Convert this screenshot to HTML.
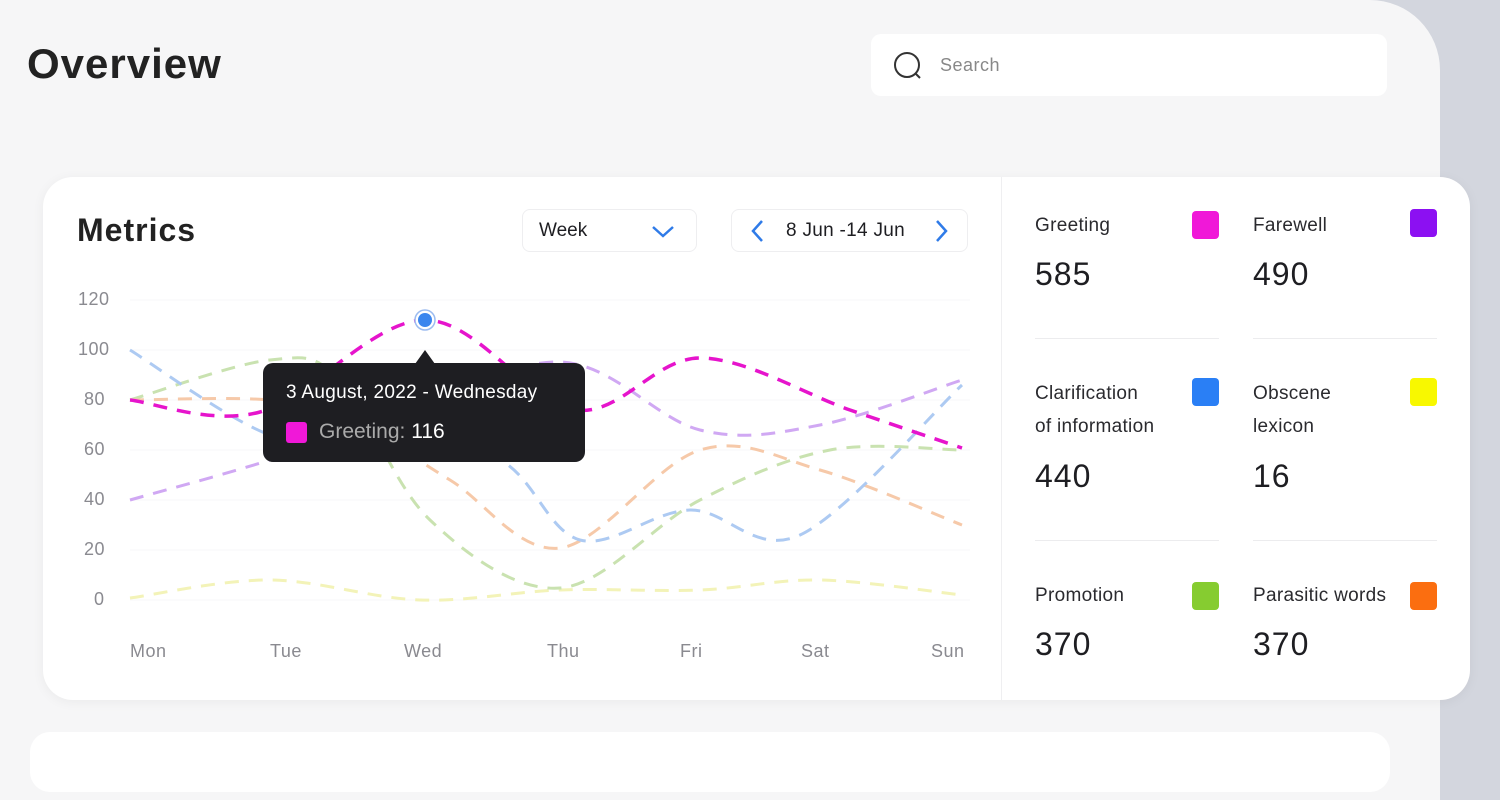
<!DOCTYPE html>
<html><head><meta charset="utf-8"><style>
*{margin:0;padding:0;box-sizing:border-box}
body{width:1500px;height:743px;overflow:hidden;background:#d3d6de;font-family:"Liberation Sans",sans-serif;position:relative;color:#1e1e22}
.page{position:absolute;left:0;top:0;width:1440px;height:800px;background:#f6f6f7;border-top-right-radius:70px}
.abs{position:absolute}
.card{left:43px;top:177px;width:1427px;height:523px;background:#fff;border-radius:30px;box-shadow:0 2px 12px rgba(0,0,0,.05)}
.card2{left:30px;top:732px;width:1360px;height:60px;background:#fff;border-radius:20px}
.box{background:#fff;border:1px solid #eeeef0;border-radius:8px}
.lbl{font-size:19px;color:#2a2a2e;line-height:33px;letter-spacing:0.3px}
.val{font-size:32px;color:#1e1e22;letter-spacing:1px}
.sq{width:27px;height:28px;border-radius:4px}
.hr{height:1px;background:#ececee;width:184px}
.ax{font-size:18px;color:#8a8a90;letter-spacing:0.5px}
</style></head><body>
<div class="page"></div>
<div class="abs" style="left:27px;top:40px;font-size:42px;font-weight:bold;color:#222;letter-spacing:1px">Overview</div>
<div class="abs" style="left:871px;top:34px;width:516px;height:62px;background:#fff;border-radius:10px"></div>
<svg class="abs" style="left:892px;top:50px" width="34" height="34"><circle cx="15" cy="15" r="12" fill="none" stroke="#333" stroke-width="2"/><line x1="24" y1="24" x2="28" y2="28" stroke="#333" stroke-width="2"/></svg>
<div class="abs" style="left:940px;top:55px;font-size:18px;color:#888;letter-spacing:0.5px">Search</div>
<div class="abs card"></div>
<div class="abs card2"></div>
<div class="abs" style="left:1001px;top:177px;width:1px;height:523px;background:#efeff1"></div>
<div class="abs" style="left:77px;top:212px;font-size:32px;font-weight:bold;color:#222;letter-spacing:1px">Metrics</div>
<div class="abs box" style="left:522px;top:209px;width:175px;height:43px"></div>
<div class="abs" style="left:539px;top:220px;font-size:19px">Week</div>
<svg class="abs" style="left:650px;top:222px" width="28" height="20"><polyline points="3,5 13,14 23,5" fill="none" stroke="#2f7be8" stroke-width="2.5"/></svg>
<div class="abs box" style="left:731px;top:209px;width:237px;height:43px"></div>
<svg class="abs" style="left:748px;top:218px" width="20" height="28"><polyline points="14,3 5,13 14,23" fill="none" stroke="#2f7be8" stroke-width="2.5"/></svg>
<div class="abs" style="left:786px;top:220px;font-size:19px;letter-spacing:0.3px">8 Jun -14 Jun</div>
<svg class="abs" style="left:932px;top:218px" width="20" height="28"><polyline points="5,3 14,13 5,23" fill="none" stroke="#2f7be8" stroke-width="2.5"/></svg>

<div class="abs ax" style="left:78px;top:289px">120</div>
<div class="abs ax" style="left:78px;top:339px">100</div>
<div class="abs ax" style="left:84px;top:389px">80</div>
<div class="abs ax" style="left:84px;top:439px">60</div>
<div class="abs ax" style="left:84px;top:489px">40</div>
<div class="abs ax" style="left:84px;top:539px">20</div>
<div class="abs ax" style="left:94px;top:589px">0</div>
<div class="abs ax" style="left:130px;top:641px">Mon</div>
<div class="abs ax" style="left:270px;top:641px">Tue</div>
<div class="abs ax" style="left:404px;top:641px">Wed</div>
<div class="abs ax" style="left:547px;top:641px">Thu</div>
<div class="abs ax" style="left:680px;top:641px">Fri</div>
<div class="abs ax" style="left:801px;top:641px">Sat</div>
<div class="abs ax" style="left:931px;top:641px">Sun</div>

<svg id="ch" class="abs" style="left:0;top:0" width="1000" height="700"></svg>

<div class="abs" style="left:263px;top:363px;width:322px;height:99px;background:#1e1e22;border-radius:10px"></div>
<div class="abs" style="left:415px;top:350px;width:0;height:0;border-left:10px solid transparent;border-right:10px solid transparent;border-bottom:14px solid #1e1e22"></div>
<div class="abs" style="left:286px;top:382px;font-size:19px;color:#fff;letter-spacing:0.3px">3 August, 2022 - Wednesday</div>
<div class="abs" style="left:286px;top:422px;width:21px;height:21px;background:#f018d8;border-radius:3px"></div>
<div class="abs" style="left:319px;top:420px;font-size:21px;color:#aaa">Greeting: <span style="color:#fff">116</span></div>

<div class="abs lbl" style="left:1035px;top:209px">Greeting</div>
<div class="abs val" style="left:1035px;top:256px">585</div>
<div class="abs sq" style="left:1192px;top:211px;background:#f018d8"></div>
<div class="abs lbl" style="left:1253px;top:209px">Farewell</div>
<div class="abs val" style="left:1253px;top:256px">490</div>
<div class="abs sq" style="left:1410px;top:209px;background:#8c10f2"></div>
<div class="abs hr" style="left:1035px;top:338px"></div>
<div class="abs hr" style="left:1253px;top:338px"></div>
<div class="abs lbl" style="left:1035px;top:377px">Clarification<br>of information</div>
<div class="abs val" style="left:1035px;top:458px">440</div>
<div class="abs sq" style="left:1192px;top:378px;background:#2a7ff5"></div>
<div class="abs lbl" style="left:1253px;top:377px">Obscene<br>lexicon</div>
<div class="abs val" style="left:1253px;top:458px">16</div>
<div class="abs sq" style="left:1410px;top:378px;background:#f8f800"></div>
<div class="abs hr" style="left:1035px;top:540px"></div>
<div class="abs hr" style="left:1253px;top:540px"></div>
<div class="abs lbl" style="left:1035px;top:579px">Promotion</div>
<div class="abs val" style="left:1035px;top:626px">370</div>
<div class="abs sq" style="left:1192px;top:582px;background:#86cc30"></div>
<div class="abs lbl" style="left:1253px;top:579px">Parasitic words</div>
<div class="abs val" style="left:1253px;top:626px">370</div>
<div class="abs sq" style="left:1410px;top:582px;background:#fb6e10"></div>

<script>
var s=document.getElementById('ch'),h='';
[300,350,400,450,500,550,600].forEach(function(y){h+='<line x1="130" x2="970" y1="'+y+'" y2="'+y+'" stroke="#f7f7f8" stroke-width="1"/>';});
function path(p){var d='M'+p[0][0]+','+p[0][1];for(var i=0;i<p.length-1;i++){var p0=p[i-1]||p[i],p1=p[i],p2=p[i+1],p3=p[i+2]||p2;var c1=[p1[0]+(p2[0]-p0[0])/6,p1[1]+(p2[1]-p0[1])/6],c2=[p2[0]-(p3[0]-p1[0])/6,p2[1]-(p3[1]-p1[1])/6];d+=' C'+c1+' '+c2+' '+p2;}return d;}
var S=[
['#f3f3b8',[[130,598],[270,580],[420,600],[560,590],[700,590],[820,580],[962,595]],3],
['#c9e2b0',[[130,400],[270,360],[340,380],[430,520],[560,588],[700,500],[830,450],[962,450]],3],
['#f6c9a9',[[130,400],[270,400],[350,420],[450,480],[560,548],[700,450],[820,470],[962,525]],3],
['#adcaf2',[[130,350],[270,435],[380,440],[500,460],[580,540],[690,510],[800,535],[962,385]],3],
['#d0a8f3',[[130,500],[270,460],[380,420],[560,362],[700,430],[820,425],[962,380]],3],
['#e614cc',[[130,400],[260,412],[425,320],[575,410],[700,358],[850,410],[962,448]],3.5]];
S.forEach(function(o){h+='<path d="'+path(o[1])+'" fill="none" stroke="'+o[0]+'" stroke-width="'+o[2]+'" stroke-dasharray="14 10"/>';});
h+='<circle cx="425" cy="320" r="10" fill="#fff" stroke="#9cbcf0" stroke-width="1.5"/><circle cx="425" cy="320" r="7" fill="#3b86ee"/>';
s.innerHTML=h;
</script>
</body></html>
